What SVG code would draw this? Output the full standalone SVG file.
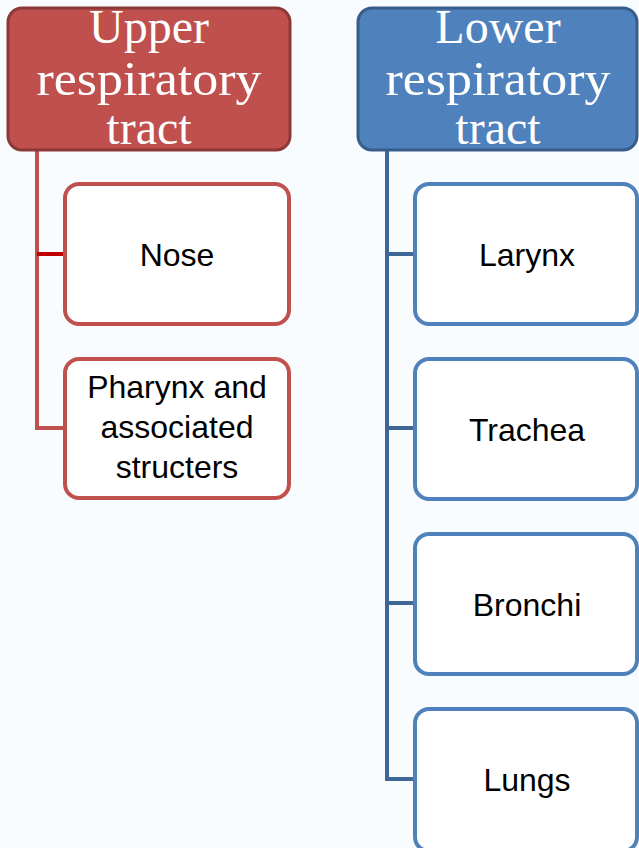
<svg xmlns="http://www.w3.org/2000/svg" width="639" height="848" viewBox="0 0 639 848">
<style>
.bg{fill:#f8fcfe}
.hdr{font-family:"Liberation Serif",serif;font-size:48px;fill:#ffffff;text-anchor:middle}
.lbl{font-family:"Liberation Sans",Arial,sans-serif;font-size:32px;fill:#000000;text-anchor:middle}
.redbox{fill:#ffffff;stroke:#c0504d;stroke-width:4}
.bluebox{fill:#ffffff;stroke:#4f81bd;stroke-width:4}
.redline{fill:none;stroke:#c0504d;stroke-width:4}
.blueline{fill:none;stroke:#3e6797;stroke-width:4}
</style>
<rect class="bg" x="0" y="0" width="639" height="848"/>
<g id="connectors">
<path class="redline" d="M37 150 V428 H64"/>
<path d="M37 254 H64" stroke="#c00000" stroke-width="4"/>
<path class="blueline" d="M387 150 V779 H415"/>
<path class="blueline" d="M387 254 H415 M387 428 H415 M387 603 H415"/>
</g>
<g id="upper">
<rect x="8" y="8" width="282" height="142" rx="14" fill="#c0504d" stroke="#8c3836" stroke-width="3"/>
<text class="hdr" x="149" y="43">Upper</text>
<text class="hdr" x="149" y="95" textLength="225" lengthAdjust="spacingAndGlyphs">respiratory</text>
<text class="hdr" x="149" y="144">tract</text>
</g>
<g id="lower">
<rect x="358" y="8" width="279" height="142" rx="14" fill="#4f81bd" stroke="#385d8a" stroke-width="3"/>
<text class="hdr" x="498" y="43">Lower</text>
<text class="hdr" x="498" y="95" textLength="225" lengthAdjust="spacingAndGlyphs">respiratory</text>
<text class="hdr" x="498" y="144">tract</text>
</g>
<g id="nose">
<rect class="redbox" x="65" y="184" width="224" height="140" rx="14"/>
<text class="lbl" x="177" y="266">Nose</text>
</g>
<g id="pharynx">
<rect class="redbox" x="65" y="359" width="224" height="139" rx="14"/>
<text class="lbl" x="177" y="398">Pharynx and</text>
<text class="lbl" x="177" y="438">associated</text>
<text class="lbl" x="177" y="478">structers</text>
</g>
<g id="larynx">
<rect class="bluebox" x="415" y="184" width="222" height="140" rx="14"/>
<text class="lbl" x="527" y="266">Larynx</text>
</g>
<g id="trachea">
<rect class="bluebox" x="415" y="359" width="222" height="140" rx="14"/>
<text class="lbl" x="527" y="441">Trachea</text>
</g>
<g id="bronchi">
<rect class="bluebox" x="415" y="534" width="222" height="140" rx="14"/>
<text class="lbl" x="527" y="616">Bronchi</text>
</g>
<g id="lungs">
<rect class="bluebox" x="415" y="709" width="222" height="142" rx="14"/>
<text class="lbl" x="527" y="791">Lungs</text>
</g>
</svg>
